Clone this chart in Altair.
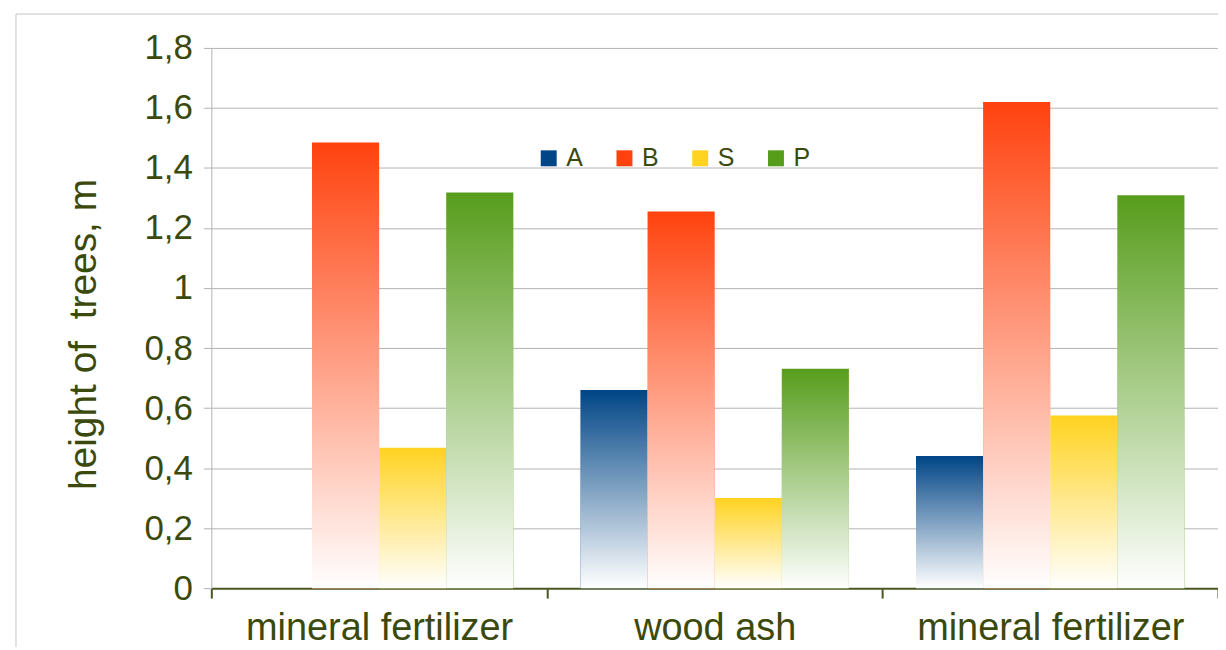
import json
import altair as alt
import pandas as pd

# ---- data ----
groups = ["mineral fertilizer", "wood ash", "mineral fertilizer"]
series = ["A", "B", "S", "P"]
colors = ["#004586", "#ff420e", "#ffd320", "#579d1c"]
values_A = [None, 0.66, 0.44]
values_B = [1.485, 1.255, 1.62]
values_S = [0.468, 0.30, 0.575]
values_P = [1.318, 0.731, 1.309]
y_ticks = [0, 0.2, 0.4, 0.6, 0.8, 1.0, 1.2, 1.4, 1.6, 1.8]
y_title = "height of\u00a0 trees, m"

series_values = {"A": values_A, "B": values_B, "S": values_S, "P": values_P}
group_keys = [str(i) for i in range(len(groups))]
rows = []
for gi, key in enumerate(group_keys):
    for s in series:
        v = series_values[s][gi]
        if v is not None:
            rows.append({"grp": key, "series": s, "value": v})
df = pd.DataFrame(rows)

TEXT = "#3b4a0c"
AXIS_DARK = "#4a5820"
GRID = "#b3b3b3"
FONT = "Liberation Sans"

label_map = json.dumps(groups)

x_enc = alt.X(
    "grp:N",
    scale=alt.Scale(domain=group_keys, paddingInner=0, paddingOuter=0),
    axis=alt.Axis(
        title=None,
        labelExpr=f"{label_map}[toNumber(datum.value)]",
        labelAngle=0,
        labelFont=FONT,
        labelFontSize=38,
        labelColor=TEXT,
        labelBaseline="alphabetic",
        labelPadding=42,
        labelLimit=0,
        tickBand="extent",
        tickSize=10,
        tickWidth=2,
        tickColor=AXIS_DARK,
        domainColor=AXIS_DARK,
        domainWidth=2,
        grid=False,
    ),
)
xoff_enc = alt.XOffset(
    "series:N", scale=alt.Scale(domain=series, paddingInner=0, paddingOuter=0.5)
)
y_enc = alt.Y(
    "value:Q",
    scale=alt.Scale(domain=[0, 1.8], nice=False),
    axis=alt.Axis(
        values=y_ticks,
        labelExpr="replace(format(datum.value, '.1~f'), '.', ',')",
        labelFont=FONT,
        labelFontSize=35,
        labelColor=TEXT,
        labelPadding=11,
        tickSize=8,
        tickColor=GRID,
        domainColor=GRID,
        grid=True,
        gridColor=GRID,
        title=y_title,
        titleFont=FONT,
        titleFontSize=39,
        titleFontWeight="normal",
        titleColor=TEXT,
        titleAngle=270,
        titleAlign="center",
        titleBaseline="alphabetic",
        titleX=-116,
        titleY=287,
    ),
)

base = alt.Chart(df).encode(x=x_enc, xOffset=xoff_enc, y=y_enc)

bars = base.mark_bar().encode(
    color=alt.Color(
        "series:N",
        scale=alt.Scale(domain=series, range=colors),
        legend=alt.Legend(
            title=None,
            orient="none",
            legendX=326,
            legendY=98,
            direction="horizontal",
            columns=4,
            symbolType="square",
            symbolSize=256,
            symbolStrokeWidth=0,
            labelFont=FONT,
            labelFontSize=25,
            labelColor=TEXT,
            labelOffset=5,
            columnPadding=29,
        ),
    )
)

fade = base.mark_bar(
    fill=alt.Gradient(
        gradient="linear",
        stops=[
            alt.GradientStop(offset=0, color="rgba(255,255,255,0)"),
            alt.GradientStop(offset=1, color="rgba(255,255,255,1)"),
        ],
        x1=0, x2=0, y1=0, y2=1,
    )
)

frame_df = pd.DataFrame({"k": [0]})
frame_top = alt.Chart(frame_df).mark_rule(color="#c4c4c4", strokeWidth=1).encode(
    x=alt.value(-196), x2=alt.value(1010), y=alt.value(-34)
)
frame_left = alt.Chart(frame_df).mark_rule(color="#c4c4c4", strokeWidth=1).encode(
    x=alt.value(-196), y=alt.value(-34), y2=alt.value(610)
)

chart = (
    alt.layer(frame_top, frame_left, bars, fade)
    .properties(
        width=1010,
        height=542,
        padding={"left": 204, "top": 39, "right": 0, "bottom": 58},
        autosize=alt.AutoSizeParams(type="none"),
        background="white",
    )
    .configure_view(stroke=None)
)

chart.save("out.html", embed_options={"renderer": "svg", "actions": False})
